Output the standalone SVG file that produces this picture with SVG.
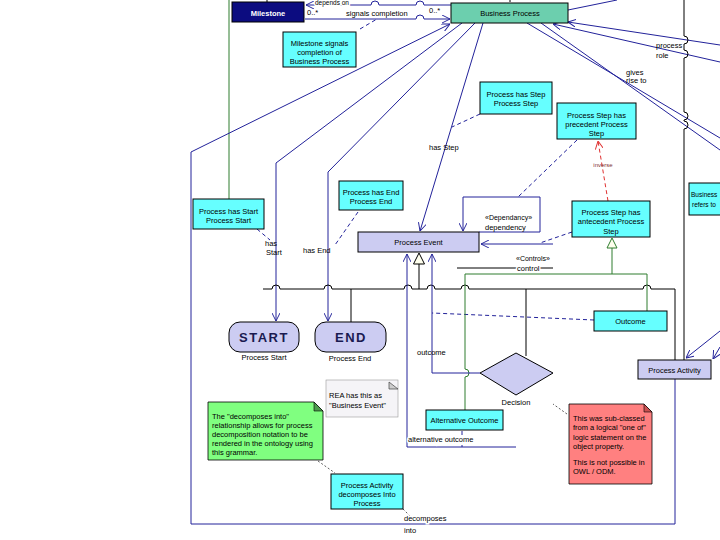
<svg xmlns="http://www.w3.org/2000/svg" width="720" height="540" viewBox="0 0 720 540">
<style>
text{font-family:"Liberation Sans",Arial,sans-serif;font-size:7.5px;fill:#000}
.c{text-anchor:middle}
.n{stroke:#22229a;stroke-width:1;fill:none}
.k{stroke:#000;stroke-width:1;fill:none}
.g{stroke:#2e7d2e;stroke-width:1;fill:none}
.dn{stroke:#22229a;stroke-width:1;fill:none;stroke-dasharray:4 3}
.dk{stroke:#333;stroke-width:0.8;fill:none;stroke-dasharray:2 2}
.box{stroke:#000;stroke-width:1}
.cy{fill:#6ff}
.lv{fill:#ccccf2}
.wb{stroke:#fff;stroke-width:3;paint-order:stroke}
</style>
<defs>
<marker id="a" viewBox="0 0 10 10" refX="10" refY="5" markerWidth="8" markerHeight="8" orient="auto" markerUnits="userSpaceOnUse"><path d="M0,0 L10,5 L0,10" fill="none" stroke="#22229a" stroke-width="1.2"/></marker>
<marker id="r" viewBox="0 0 10 10" refX="10" refY="5" markerWidth="8" markerHeight="8" orient="auto" markerUnits="userSpaceOnUse"><path d="M0,0 L10,5 L0,10" fill="none" stroke="#e03030" stroke-width="1.2"/></marker>
</defs>

<g id="connectors">
<path class="k" d="M267 0 V2 M510 0 V2"/>
<path class="g" d="M229 0 V199"/>
<path class="n" d="M451 5 H424 a4 4 0 0 0 -8 0 H379 a4 4 0 0 0 -8 0 H306" marker-end="url(#a)"/>
<path class="n" d="M305 19 H416 a4 4 0 0 1 8 0 H450" marker-end="url(#a)"/>
<path class="dn" d="M360 29 L377 19"/>
<path class="n" d="M675 379 V524 H191 V152 L450 24" marker-end="url(#a)"/>
<path class="n" d="M462 23 L276 163 V321" marker-end="url(#a)"/>
<path class="n" d="M475 23 L328 172 V321" marker-end="url(#a)"/>
<path class="n" d="M483 23 L420 231" marker-end="url(#a)"/>
<path class="n" d="M568 10 L617 0"/>
<path class="n" d="M720 45 L568 22" marker-end="url(#a)"/>
<path class="n" d="M720 62 L553 24" marker-end="url(#a)"/>
<path class="n" d="M527 23 L720 138"/>
<path class="n" d="M541 23 L720 150"/>
<path class="k" d="M684 0 V36 a4 4 0 0 1 0 8 V50 a4 4 0 0 1 0 8 V112 a4 4 0 0 1 0 8 V121 a4 4 0 0 1 0 8 V360"/>
<path class="n" d="M720 331 L686 358" marker-end="url(#a)"/>
<path class="n" d="M720 347 L713 359" marker-end="url(#a)"/>
<path class="dn" d="M480 114 L452 127"/>
<path class="dn" d="M257 229 L270 240"/>
<path class="dn" d="M358 212 L335 245"/>
<path class="dn" d="M577 140 L518 197"/>
<path class="dn" d="M572 232 L540 243"/>
<path class="dn" d="M594 320 L432 313"/>
<path class="dn" d="M462 431 V447"/>
<path class="dk" d="M318 461 L335 473"/>
<path class="dk" d="M567 414 L553 404"/>
<path class="dk" d="M403 509 L410 516"/>
<path d="M608 201 L598 141" stroke="#e03030" stroke-dasharray="4 3" fill="none" marker-end="url(#r)"/>
<path class="n" d="M479 232 H540 V197 H463 V231" marker-end="url(#a)"/>
<path class="k" d="M457 268 H553"/>
<path class="n" d="M553 244 H481" marker-end="url(#a)"/>
<path class="k" d="M263 289 H272 a4 4 0 0 1 8 0 H324 a4 4 0 0 1 8 0 H404 a4 4 0 0 1 8 0 H427 a4 4 0 0 1 8 0 H461 a4 4 0 0 1 8 0 H643 a4 4 0 0 1 8 0 H675 V360"/>
<path class="k" d="M351 289 V322 M419 289 V264 M526 289 V356"/>
<polygon points="419,253 413.5,264 424.5,264" fill="#ffffee" stroke="#000"/>
<path class="g" d="M612 248 V274 M465 274 H647 V311 M465 274 V369 a4 4 0 0 1 0 8 V410"/>
<polygon points="612,238 607,248 617,248" fill="#ffffee" stroke="#2e7d2e"/>
<path class="n" d="M480 373 H432 V254" marker-end="url(#a)"/>
<path class="n" d="M516 447 H407 V254" marker-end="url(#a)"/>
</g>

<g id="milestone"><rect x="232" y="2" width="72" height="20" fill="#0c0c80" stroke="#000"/><text x="268" y="15.5" class="c" style="fill:#fff;font-weight:bold">Milestone</text></g>
<g id="business-process"><rect x="451" y="3" width="117" height="20" fill="#6ccfae" class="box"/><text x="510" y="15.5" class="c">Business Process</text></g>
<g id="milestone-signals"><rect x="283" y="32" width="73" height="35" class="box cy"/><text x="319.5" y="45.5" class="c">Milestone signals</text><text x="319.5" y="54.5" class="c">completion of</text><text x="319.5" y="63.5" class="c">Business Process</text></g>
<g id="process-has-step"><rect x="480" y="82" width="72" height="32" class="box cy"/><text x="516" y="96.5" class="c">Process has Step</text><text x="516" y="105.5" class="c">Process Step</text></g>
<g id="precedent"><rect x="557" y="103" width="79" height="36" class="box cy"/><text x="596.5" y="117.5" class="c">Process Step has</text><text x="596.5" y="126.5" class="c">precedent Process</text><text x="596.5" y="135.5" class="c">Step</text></g>
<g id="antecedent"><rect x="572" y="201" width="78" height="36" class="box cy"/><text x="611" y="214.5" class="c">Process Step has</text><text x="611" y="224" class="c">antecedent Process</text><text x="611" y="233.5" class="c">Step</text></g>
<g id="business-refers"><rect x="689" y="183" width="40" height="32" class="box cy"/><text x="691" y="197" style="font-size:6.5px">Business</text><text x="692" y="207" style="font-size:6.5px">refers to</text></g>
<g id="process-has-start"><rect x="193" y="199" width="71" height="30" class="box cy"/><text x="228.5" y="213.5" class="c">Process has Start</text><text x="228.5" y="222.5" class="c">Process Start</text></g>
<g id="process-has-end"><rect x="339" y="181" width="64" height="29" class="box cy"/><text x="371" y="194.5" class="c">Process has End</text><text x="371" y="203.5" class="c">Process End</text></g>
<g id="process-event"><rect x="358" y="232" width="121" height="20" class="box lv"/><text x="418.5" y="245" class="c">Process Event</text></g>
<g id="start"><rect x="229" y="322" width="70" height="30" rx="11" class="box lv"/><text x="264" y="342" class="c" style="font-size:13px;font-weight:bold;letter-spacing:1.5px;fill:#1a1a50">START</text><text x="264" y="360" class="c">Process Start</text></g>
<g id="end"><rect x="315" y="322" width="71" height="30" rx="11" class="box lv"/><text x="351" y="342" class="c" style="font-size:13px;font-weight:bold;letter-spacing:1.5px;fill:#1a1a50">END</text><text x="350" y="360.5" class="c">Process End</text></g>
<g id="outcome"><rect x="594" y="311" width="73" height="20" class="box cy"/><text x="630.5" y="324" class="c">Outcome</text></g>
<g id="decision"><polygon points="480,373 516,353 553,373 516,395" class="box lv"/><text x="516" y="404.5" class="c">Decision</text></g>
<g id="alternative-outcome"><rect x="426" y="410" width="77" height="20" class="box cy"/><text x="464.5" y="423" class="c">Alternative Outcome</text></g>
<g id="process-activity"><rect x="638" y="360" width="73" height="19" class="box lv"/><text x="674.5" y="372.5" class="c">Process Activity</text></g>
<g id="rea-note"><rect x="326" y="380" width="72" height="37" fill="#f5f4f7" stroke="#999" stroke-width="0.6"/><polygon points="389,382 389,389 398,389" fill="#ccc" stroke="#444" stroke-width="0.7"/><text x="329" y="398">REA has this as</text><text x="329" y="407.5">"Business Event"</text></g>
<g id="green-note"><path d="M208 402 H314 L323 411 V460 H208 Z" fill="#80ff80" stroke="#000" stroke-width="0.8"/><path d="M314 402 V411 H323 Z" fill="#4c9a4c" stroke="#000" stroke-width="0.6"/><text x="212" y="418.5">The "decomposes into"</text><text x="212" y="427.5">relationship allows for process</text><text x="212" y="436.5">decomposition notation to be</text><text x="212" y="445.5">rendered in the ontology using</text><text x="212" y="454.5">this grammar.</text></g>
<g id="decomposes-box"><rect x="331" y="474" width="72" height="35" class="box cy"/><text x="367" y="487.5" class="c">Process Activity</text><text x="367" y="496.5" class="c">decomposes Into</text><text x="367" y="506" class="c">Process</text></g>
<g id="red-note"><path d="M569 404 H644 L652 412 V484 H569 Z" fill="#ff8080" stroke="#000" stroke-width="0.8"/><path d="M644 404 V412 H652 Z" fill="#c85050" stroke="#000" stroke-width="0.6"/><text x="573" y="420.5">This was sub-classed</text><text x="573" y="430">from a logical "one of"</text><text x="573" y="439.5">logic statement on the</text><text x="573" y="448.5">object property.</text><text x="573" y="464.5">This is not possible in</text><text x="573" y="473.5">OWL / ODM.</text></g>

<g id="labels">
<text x="315" y="4.5" style="font-size:6.5px" class="wb">depends on</text>
<text x="307" y="15">0..*</text>
<text x="346" y="15.5">signals completion</text>
<text x="429" y="12.5">0..*</text>
<text x="656" y="47.5">process</text>
<text x="656" y="57.5">role</text>
<text x="626" y="74.5">gives</text>
<text x="626" y="83">rise to</text>
<text x="429" y="150">has Step</text>
<text x="603" y="167" class="c" style="font-size:6px;fill:#803030">inverse</text>
<text x="485" y="219.5" style="font-size:7px">«Dependancy»</text>
<text x="485" y="229.5">dependency</text>
<text x="516" y="260.5" style="font-size:7px">«Controls»</text>
<text x="517" y="270.5" class="wb">control</text>
<text x="265" y="245.5">has</text>
<text x="266" y="254.5">Start</text>
<text x="303" y="252.5">has End</text>
<text x="417" y="355">outcome</text>
<text x="408" y="442" class="wb">alternative outcome</text>
<text x="404" y="520.5" class="wb">decomposes</text>
<text x="404" y="532.5">into</text>
</g>
</svg>
